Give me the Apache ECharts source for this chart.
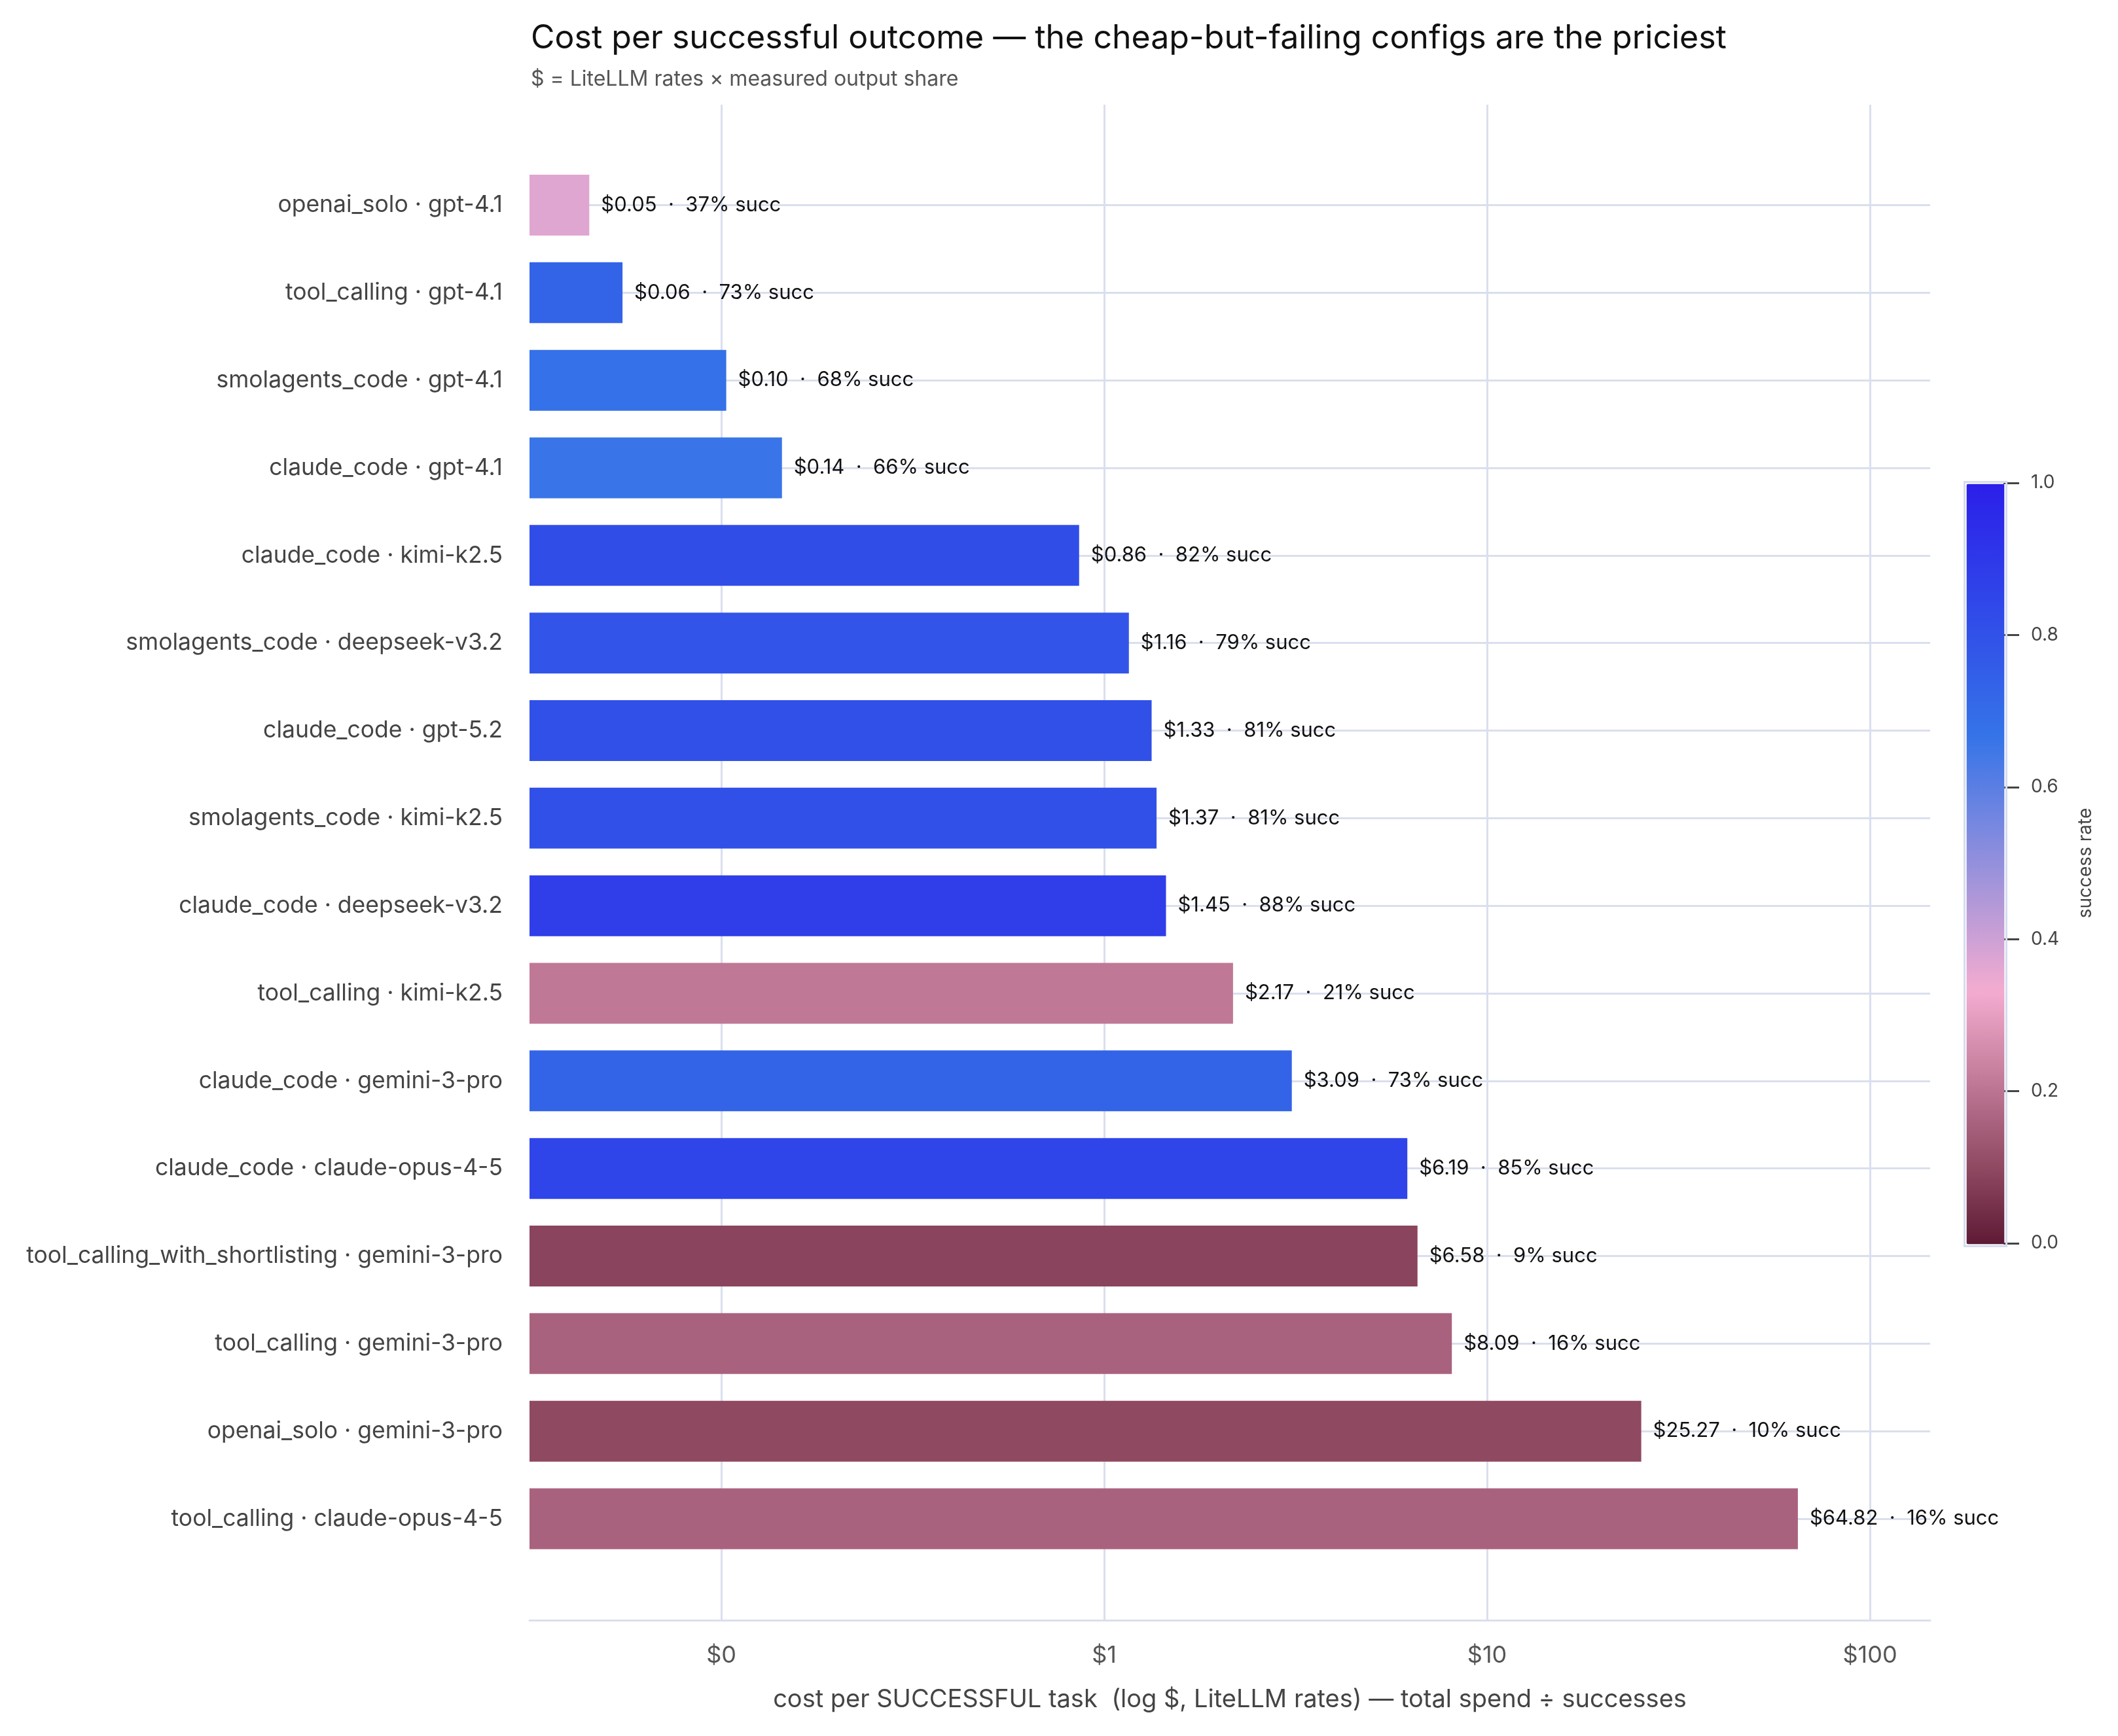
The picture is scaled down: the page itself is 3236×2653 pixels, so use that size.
<!DOCTYPE html>
<html>
<head>
<meta charset="utf-8">
<script src="https://cdn.jsdelivr.net/npm/echarts@6/dist/echarts.min.js"></script>
<style>
  html, body { margin: 0; padding: 0; background: #fff; }
  #chart { width: 3236px; height: 2653px; }
</style>
</head>
<body>
<div id="chart"></div>
<script>
// configs, top to bottom
var configs = [
  'openai_solo · gpt-4.1',
  'tool_calling · gpt-4.1',
  'smolagents_code · gpt-4.1',
  'claude_code · gpt-4.1',
  'claude_code · kimi-k2.5',
  'smolagents_code · deepseek-v3.2',
  'claude_code · gpt-5.2',
  'smolagents_code · kimi-k2.5',
  'claude_code · deepseek-v3.2',
  'tool_calling · kimi-k2.5',
  'claude_code · gemini-3-pro',
  'claude_code · claude-opus-4-5',
  'tool_calling_with_shortlisting · gemini-3-pro',
  'tool_calling · gemini-3-pro',
  'openai_solo · gemini-3-pro',
  'tool_calling · claude-opus-4-5'
];
// $ per successful task
var costs = [0.0452, 0.0552, 0.103, 0.144, 0.86, 1.16, 1.33, 1.37, 1.45, 2.17, 3.09, 6.19, 6.58, 8.09, 25.27, 64.82];
// success rate (0..1)
var succRates = [0.37, 0.73, 0.68, 0.66, 0.82, 0.79, 0.81, 0.81, 0.88, 0.21, 0.73, 0.85, 0.09, 0.16, 0.10, 0.16];

var xTickValues = [0.1, 1, 10, 100];
var xTickLabels = ['$0', '$1', '$10', '$100'];

var FONT = 'Inter';
var GRID_COLOR = '#dadfee';
var X_MIN = 0.03155, X_MAX = 143.6;

// colour scale stops (position, colour)
var scaleStops = [[0, '#5e1a34'], [0.1, '#8f4961'], [1 / 3, '#f4acd0'], [2 / 3, '#3574e8'], [1, '#2b1fe9']];

function hexToRgb(h) {
  return [parseInt(h.substr(1, 2), 16), parseInt(h.substr(3, 2), 16), parseInt(h.substr(5, 2), 16)];
}
// visualMap spreads colours evenly, so sample the stop table finely
function buildScale(n) {
  var out = [];
  for (var k = 0; k <= n; k++) {
    var t = k / n;
    var j = 0;
    while (j < scaleStops.length - 2 && t > scaleStops[j + 1][0]) j++;
    var a = scaleStops[j], b = scaleStops[j + 1];
    var f = (t - a[0]) / (b[0] - a[0]);
    var ca = hexToRgb(a[1]), cb = hexToRgb(b[1]);
    out.push('rgb(' + ca.map(function (v, i) { return Math.round(v + (cb[i] - v) * f); }).join(',') + ')');
  }
  return out;
}

var chart = echarts.init(document.getElementById('chart'));

var barData = costs.map(function (c, i) {
  return [c, i, succRates[i]];
});

function xLabel(v) {
  for (var i = 0; i < xTickValues.length; i++) {
    if (Math.abs(Math.log10(v) - Math.log10(xTickValues[i])) < 1e-6) return xTickLabels[i];
  }
  return '';
}

// bars start at the left edge of the plot (log axis has no zero)
function renderBar(params, api) {
  var cost = api.value(0);
  var idx = api.value(1);
  var end = api.coord([cost, idx]);
  var step = api.coord([cost, 1])[1] - api.coord([cost, 0])[1];
  var h = Math.abs(step) * 0.695;
  var x0 = params.coordSys.x;
  var txt = '$' + cost.toFixed(2) + '  ·  ' + Math.round(api.value(2) * 100) + '% succ';
  return {
    type: 'group',
    children: [{
      type: 'rect',
      shape: { x: x0, y: end[1] - h / 2, width: end[0] - x0, height: h },
      style: { fill: api.visual('color') }
    }, {
      type: 'text',
      x: end[0] + 18,
      y: end[1],
      style: {
        text: txt,
        fill: '#111',
        fontSize: 31,
        fontFamily: FONT,
        align: 'left',
        verticalAlign: 'middle'
      }
    }]
  };
}

var option = {
  backgroundColor: '#fff',
  animation: false,
  title: [{
    text: 'Cost per successful outcome — the cheap-but-failing configs are the priciest',
    left: 811,
    top: 34,
    padding: 0,
    textStyle: { fontSize: 50, fontWeight: 'normal', color: '#111', fontFamily: FONT }
  }, {
    text: '$ = LiteLLM rates × measured output share',
    left: 811,
    top: 105,
    padding: 0,
    textStyle: { fontSize: 32, fontWeight: 'normal', color: '#555', fontFamily: FONT }
  }],
  grid: [
    { left: 809, right: 287, top: 313.5, bottom: 332 },
    { left: 809, right: 287, top: 160, bottom: 177 },
    { left: 3003, top: 738, width: 58, height: 1162 }
  ],
  visualMap: {
    type: 'continuous',
    seriesIndex: 0,
    dimension: 2,
    min: 0,
    max: 1,
    calculable: false,
    hoverLink: false,
    left: 3000,
    top: 735,
    padding: 3,
    itemWidth: 58,
    itemHeight: 1162,
    borderColor: '#d6dcee',
    borderWidth: 3,
    inRange: { color: buildScale(60) }
  },
  xAxis: [{
    gridIndex: 0,
    type: 'log',
    min: X_MIN,
    max: X_MAX,
    show: false
  }, {
    gridIndex: 1,
    type: 'log',
    min: X_MIN,
    max: X_MAX,
    axisLine: { show: true, lineStyle: { color: GRID_COLOR, width: 3 } },
    axisTick: { show: false },
    splitLine: { show: true, showMinLine: false, showMaxLine: false, lineStyle: { color: GRID_COLOR, width: 3 } },
    axisLabel: {
      formatter: xLabel,
      showMinLabel: false,
      showMaxLabel: false,
      margin: 36,
      fontSize: 36,
      color: '#555',
      fontFamily: FONT
    },
    name: 'cost per SUCCESSFUL task  (log $, LiteLLM rates) — total spend ÷ successes',
    nameLocation: 'middle',
    nameGap: 103,
    nameTextStyle: { fontSize: 38, color: '#444', fontFamily: FONT }
  }, {
    gridIndex: 2,
    type: 'value',
    min: 0,
    max: 1,
    show: false
  }],
  yAxis: [{
    gridIndex: 0,
    type: 'category',
    data: configs,
    inverse: true,
    boundaryGap: false,
    axisLine: { show: false },
    axisTick: { show: false },
    splitLine: { show: true, lineStyle: { color: GRID_COLOR, width: 3 } },
    axisLabel: { interval: 0, margin: 41, fontSize: 35.5, color: '#444', fontFamily: FONT }
  }, {
    gridIndex: 1,
    type: 'value',
    show: false
  }, {
    gridIndex: 2,
    type: 'value',
    position: 'right',
    min: 0,
    max: 1,
    interval: 0.2,
    axisLine: { show: false, onZero: false },
    axisTick: { show: true, length: 24, lineStyle: { color: '#444', width: 3 } },
    splitLine: { show: false },
    axisLabel: {
      formatter: function (v) { return v.toFixed(1); },
      margin: 42,
      fontSize: 28,
      color: '#444',
      fontFamily: FONT
    },
    name: 'success rate',
    nameLocation: 'middle',
    nameGap: 112,
    nameTextStyle: { fontSize: 28, color: '#444', fontFamily: FONT }
  }],
  series: [{
    type: 'custom',
    xAxisIndex: 0,
    yAxisIndex: 0,
    renderItem: renderBar,
    encode: { x: 0, y: 1 },
    data: barData,
    z: 5
  }]
};

chart.setOption(option);
</script>
</body>
</html>
